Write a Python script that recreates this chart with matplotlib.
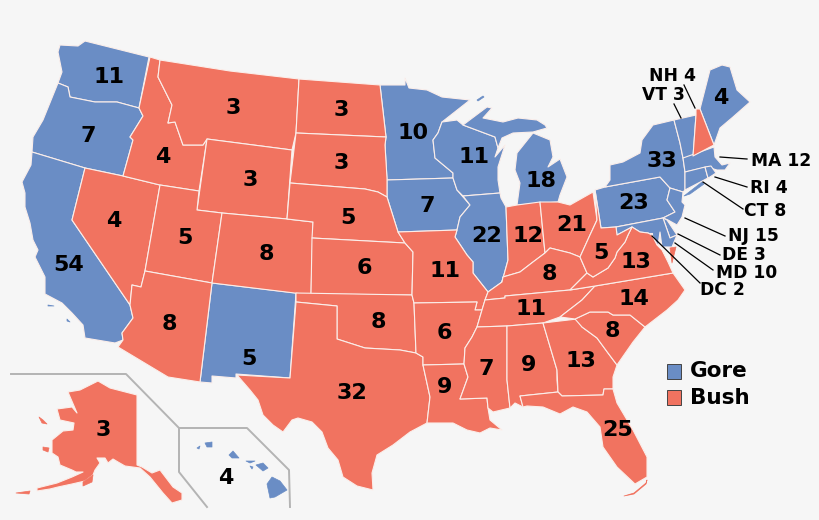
import matplotlib
matplotlib.use("Agg")
import matplotlib.pyplot as plt
import matplotlib.patches as mpatches

# outlines, in picture pixels
WA = [(60,45),(78,46),(85,41),(149,57),(139,108),(117,102),(95,102),(80,99),(70,97),(68,87),(58,83),(62,72),(58,52)]
OR = [(58,83),(68,87),(70,97),(80,99),(95,102),(117,102),(139,108),(143,116),(130,137),(133,140),(123,176),(85,168),(32,152),(33,137),(43,120)]
CA = [(32,152),(85,168),(72,220),(130,305),(133,318),(122,333),(123,340),(115,343),(85,338),(83,325),(72,313),(62,303),(45,294),(45,277),(35,257),(38,250),(33,240),(30,223),(25,207),(25,193),(22,182),(31,165)]
NV = [(85,168),(123,176),(160,185),(145,271),(141,287),(132,285),(130,305),(72,220)]
ID = [(150,57),(160,60),(158,77),(172,105),(168,123),(175,122),(183,145),(203,145),(207,139),(199,191),(160,185),(123,176),(133,140),(130,137),(143,116),(139,108)]
MT = [(160,60),(230,71),(299,79),(296,133),(292,150),(207,139),(203,145),(183,145),(175,122),(168,123),(172,105),(158,77)]
WY = [(207,139),(292,150),(287,219),(222,213),(197,210)]
UT = [(160,185),(199,191),(197,210),(222,213),(212,283),(145,271)]
CO = [(222,213),(287,219),(313,222),(311,295),(212,283)]
AZ = [(145,271),(212,283),(200,382),(168,377),(118,347),(123,340),(122,333),(133,318),(130,305),(132,285),(141,287)]
NM = [(212,283),(296,293),(290,378),(236,374),(236,378),(212,376),(212,383),(200,382)]
ND = [(299,79),(380,85),(386,137),(296,133)]
SD = [(296,133),(386,137),(385,145),(387,178),(387,197),(378,192),(365,189),(290,183)]
NE = [(290,183),(365,189),(378,192),(387,197),(398,232),(405,243),(312,238),(313,222),(287,219)]
KS = [(312,238),(405,243),(413,252),(412,295),(311,294)]
OK = [(296,293),(412,295),(414,303),(416,353),(400,350),(365,348),(337,339),(337,306),(296,302)]
TX = [(296,302),(337,306),(337,339),(365,348),(400,350),(416,353),(423,357),(423,365),(430,397),(427,423),(410,432),(393,445),(377,455),(372,473),(373,490),(357,486),(343,477),(338,460),(328,448),(322,432),(312,422),(298,418),(292,420),(283,432),(273,425),(263,415),(258,400),(250,390),(237,375),(290,378)]
MN = [(380,85),(405,85),(405,78),(409,88),(427,90),(442,97),(470,100),(442,122),(438,133),(433,140),(435,158),(453,173),(453,178),(387,180),(385,145),(386,137)]
IA = [(387,180),(453,178),(457,190),(470,205),(460,217),(457,230),(398,232),(387,197)]
MO = [(398,232),(457,230),(455,237),(467,255),(473,262),(473,273),(488,292),(485,300),(482,310),(475,310),(477,302),(414,303),(412,295),(413,252),(405,243)]
AR = [(414,303),(477,302),(475,310),(482,310),(477,327),(472,337),(465,348),(464,364),(423,365),(423,357),(416,353)]
LA = [(423,365),(464,364),(468,377),(460,399),(487,398),(488,408),(490,420),(502,430),(490,428),(480,433),(467,430),(453,423),(435,423),(427,423),(430,397)]
WI = [(442,122),(457,120),(463,125),(495,137),(498,148),(495,157),(505,145),(498,167),(498,180),(500,193),(463,196),(457,190),(453,178),(453,173),(435,158),(433,140),(438,133)]
IL = [(463,196),(500,193),(501,198),(506,207),(508,260),(502,282),(488,292),(473,273),(473,262),(467,255),(455,237),(457,230),(460,217),(470,205)]
MI_UP = [(463,125),(487,107),(492,108),(483,118),(503,122),(518,118),(537,120),(545,125),(547,128),(533,132),(513,133),(502,138),(498,148),(495,137)]
MI_LP = [(533,133),(550,140),(553,157),(548,167),(560,159),(567,177),(560,195),(558,202),(517,205),(520,183),(515,170),(517,153),(525,143)]
IN = [(506,207),(517,205),(540,202),(545,253),(533,262),(520,272),(503,277),(502,282),(508,260)]
OH = [(540,202),(558,202),(570,205),(593,192),(597,220),(590,235),(580,257),(570,253),(550,248),(545,253)]
KY = [(502,282),(503,277),(520,272),(533,262),(545,253),(550,248),(570,253),(580,257),(587,273),(570,290),(505,296),(505,298),(485,300),(488,292)]
TN = [(485,300),(505,298),(505,296),(570,290),(595,286),(582,300),(560,317),(543,323),(507,326),(477,327),(482,310)]
MS = [(477,327),(507,326),(507,380),(510,408),(493,412),(488,408),(487,398),(460,399),(468,377),(464,364),(465,348),(472,337)]
AL = [(507,326),(543,323),(557,370),(557,380),(558,392),(520,396),(523,407),(515,403),(510,408),(507,380)]
GA = [(543,323),(577,319),(582,327),(597,338),(608,353),(617,365),(613,377),(613,389),(604,389),(603,395),(562,396),(558,392),(557,370)]
FL = [(520,396),(558,392),(562,396),(603,395),(604,389),(613,389),(617,403),(633,430),(647,457),(647,477),(635,484),(617,467),(603,447),(600,427),(587,412),(573,407),(560,414),(543,407),(527,406),(523,407)]
SC = [(575,319),(590,312),(608,312),(613,315),(630,315),(645,327),(633,342),(617,365),(608,353),(597,338),(582,327)]
NC = [(595,286),(673,273),(685,290),(678,300),(667,310),(645,327),(630,315),(613,315),(608,312),(590,312),(575,319),(560,317),(582,300)]
VA = [(570,290),(587,273),(593,277),(608,268),(615,258),(617,252),(625,242),(628,235),(632,227),(640,232),(648,233),(652,235),(657,245),(662,250),(668,262),(673,273),(595,286)]
WV = [(580,257),(590,235),(597,220),(595,190),(601,228),(616,227),(617,235),(632,227),(628,235),(625,242),(617,252),(615,258),(608,268),(593,277),(587,273)]
MD = [(616,227),(663,218),(670,238),(677,235),(672,247),(662,247),(660,232),(658,246),(652,235),(648,233),(640,232),(632,227),(617,235)]
DE = [(663,218),(667,220),(677,235),(670,238)]
DC = [(648,233),(652,233),(652,237),(649,237)]
NJ = [(670,188),(683,192),(682,202),(685,205),(682,217),(677,225),(668,220),(663,218),(675,212),(667,200)]
PA = [(595,190),(605,187),(660,177),(670,188),(667,200),(675,212),(663,218),(616,227),(601,228)]
NY = [(605,187),(610,180),(610,165),(623,162),(640,153),(642,140),(653,125),(674,120),(680,143),(683,158),(685,172),(685,190),(683,192),(670,188),(660,177)]
VT = [(674,120),(696,115),(693,157),(683,158),(680,143)]
NH = [(696,109),(700,109),(714,145),(693,156),(696,115)]
ME = [(700,109),(710,70),(722,65),(730,67),(737,90),(750,102),(733,117),(720,128),(714,145)]
MA = [(683,158),(714,147),(715,157),(722,165),(730,163),(725,170),(717,170),(707,167),(685,172)]
CT = [(685,172),(705,167),(708,178),(685,190)]
RI = [(705,167),(711,166),(716,173),(710,177),(708,178)]
AK = [(68,392),(80,390),(98,381),(110,388),(137,395),(137,465),(142,467),(152,473),(160,470),(173,487),(182,493),(182,500),(172,503),(163,493),(150,477),(140,468),(125,466),(118,462),(113,459),(108,463),(105,458),(97,458),(100,463),(95,470),(93,475),(85,481),(72,484),(58,487),(50,489),(37,491),(37,488),(57,483),(72,477),(83,472),(76,472),(72,470),(60,465),(58,457),(52,453),(52,440),(63,431),(73,430),(74,423),(60,420),(57,409),(72,407),(77,413)]

NY_LI = [(684,196),(702,182),(704,184),(690,194)]
VA_SHORE = [(670,248),(676,247),(672,263)]
ISLE_ROYALE = [(477,100),(483,96),(484,97),(478,101)]
CA_CHANNEL = [(48,305),(54,306),(48,306)]
CA_CATALINA = [(67,319),(70,322),(67,321)]
FL_KEYS = [(624,496),(634,493),(646,483),(647,480),(646,484),(634,494)]
AK_KODIAK = [(83,482),(93,475),(92,482),(83,486)]
AK_ALEUT = [(16,493),(30,491),(29,494)]
AK_STL = [(39,417),(43,420),(47,424),(42,423)]
AK_NUNIVAK = [(43,447),(49,448),(48,452),(43,450)]
HI_BIG = [(267,484),(272,477),(280,481),(287,490),(275,497),(270,498)]
HI_MAUI = [(256,465),(263,463),(268,468),(263,471)]
HI_MOLOKAI = [(246,461),(255,461),(250,463)]
HI_LANAI = [(250,466),(253,467),(252,469)]
HI_OAHU = [(229,455),(233,451),(239,458),(232,458)]
HI_KAUAI = [(205,443),(212,442),(212,447),(207,447)]
HI_NIIHAU = [(197,448),(200,446),(199,449)]

gore_outlines = [WA, OR, CA, NM, MN, IA, WI, IL, MI_UP, MI_LP, PA, NY, VT, ME, MA, CT, RI, NJ, DE, MD, DC]
bush_outlines = [NV, ID, MT, WY, UT, CO, AZ, ND, SD, NE, KS, OK, TX, MO, AR, LA, IN, OH, KY, TN, MS, AL, GA, FL,
                 SC, NC, VA, WV, NH, AK]
gore_islands = [NY_LI, ISLE_ROYALE, CA_CHANNEL, CA_CATALINA, HI_BIG, HI_MAUI, HI_MOLOKAI, HI_LANAI, HI_OAHU, HI_KAUAI, HI_NIIHAU]
bush_islands = [VA_SHORE, FL_KEYS, AK_KODIAK, AK_ALEUT, AK_STL, AK_NUNIVAK]

votes = ["11","7","54","4","4","3","3","5","8","8","5","3","3","5","6","8","32","10","7","11","6","9",
         "11","22","18","12","21","8","11","7","9","13","25","8","14","13","5","23","33","4","3","4"]
vote_x = [109,88,69,114,163,233,250,185,266,169,249,341,341,348,364,378,352,413,427,445,444,445,
          474,487,541,528,572,549,531,486,529,581,618,612,634,636,601,634,662,721,103,226]
vote_y = [77,136,265,221,157,108,180,238,254,324,359,110,163,218,268,322,393,133,206,271,333,387,
          157,236,181,236,225,274,309,369,365,361,430,331,299,262,253,203,161,98,430,478]

small_labels = ["NH 4","VT 3","MA 12","RI 4","CT 8","NJ 15","DE 3","MD 10","DC 2"]
small_x = [649,642,751,750,744,728,722,716,700]
small_y = [76,95,161,188,211,236,255,273,290]
lead_from = [(684,85),(674,104),(720,157),(715,177),(703,182),(685,218),(678,234),(675,243),(652,236)]
lead_to = [(695,108),(681,118),(747,159),(747,187),(743,209),(725,236),(720,255),(713,270),(700,283)]

inset_alaska = [(11,374),(126,374),(179,428)]
inset_hawaii = [(207,507),(179,472),(179,428),(247,428),(289,470),(290,507)]

GORE = "#6a8dc5"
BUSH = "#f17360"

fig = plt.figure(figsize=(8.2, 5.2), dpi=100, facecolor="#f6f6f6")
ax = fig.add_axes([0, 0, 1, 1])
ax.set_xlim(0, 820)
ax.set_ylim(520, 0)
ax.axis("off")

for line in [inset_alaska, inset_hawaii]:
    ax.plot([p[0] for p in line], [p[1] for p in line], color="#b4b4b4", lw=1.4, zorder=1)

for outlines, colour in [(gore_outlines, GORE), (bush_outlines, BUSH)]:
    for outline in outlines:
        ax.add_patch(mpatches.Polygon(outline, closed=True, facecolor=colour, edgecolor="#fbeeea",
                                      lw=0.8, joinstyle="round", zorder=2))

# small islands keep their own colour on the edge, a white one would eat them
for outlines, colour in [(gore_islands, GORE), (bush_islands, BUSH)]:
    for outline in outlines:
        ax.add_patch(mpatches.Polygon(outline, closed=True, facecolor=colour, edgecolor=colour,
                                      lw=0.5, joinstyle="round", zorder=2))

for i in range(len(votes)):
    ax.text(vote_x[i], vote_y[i], votes[i], fontsize=16, fontweight="bold", color="black",
            ha="center", va="center", zorder=4)

for i in range(len(small_labels)):
    ax.plot([lead_from[i][0], lead_to[i][0]], [lead_from[i][1], lead_to[i][1]], color="black", lw=0.9, zorder=3)
    ax.text(small_x[i], small_y[i], small_labels[i], fontsize=12.3, fontweight="bold", color="black",
            ha="left", va="center", zorder=4)

# legend
ax.add_patch(mpatches.Rectangle((667, 364), 14, 15, facecolor=GORE, edgecolor="#444444", lw=0.7, zorder=3))
ax.add_patch(mpatches.Rectangle((667, 390), 14, 15, facecolor=BUSH, edgecolor="#444444", lw=0.7, zorder=3))
ax.text(690, 371, "Gore", fontsize=15.5, fontweight="bold", ha="left", va="center")
ax.text(690, 398, "Bush", fontsize=15.5, fontweight="bold", ha="left", va="center")

fig.savefig("out.png", dpi=100, facecolor=fig.get_facecolor())
